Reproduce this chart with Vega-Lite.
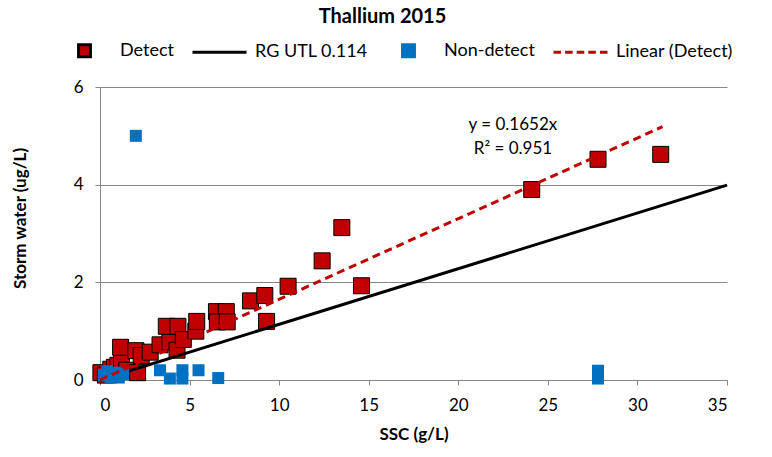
{
  "$schema": "https://vega.github.io/schema/vega-lite/v6.json",
  "width": 627,
  "height": 293,
  "autosize": {"type": "none"},
  "padding": {"left": 100, "top": 87, "right": 45, "bottom": 77},
  "background": "white",
  "title": {"text": "Thallium 2015", "font": "Lato", "fontSize": 20, "fontWeight": "bold", "color": "black", "anchor": "middle", "frame": "group", "dx": -31, "offset": -5},
  "config": {"view": {"stroke": null}},
  "datasets": {
    "pts": [
      {"ssc": 0.05, "sw": 0.15, "series": "Detect"},
      {"ssc": 0.3, "sw": 0.1, "series": "Detect"},
      {"ssc": 0.6, "sw": 0.22, "series": "Detect"},
      {"ssc": 0.8, "sw": 0.26, "series": "Detect"},
      {"ssc": 1.0, "sw": 0.3, "series": "Detect"},
      {"ssc": 1.2, "sw": 0.4, "series": "Detect"},
      {"ssc": 1.15, "sw": 0.67, "series": "Detect"},
      {"ssc": 1.5, "sw": 0.2, "series": "Detect"},
      {"ssc": 2.0, "sw": 0.6, "series": "Detect"},
      {"ssc": 2.1, "sw": 0.15, "series": "Detect"},
      {"ssc": 2.3, "sw": 0.5, "series": "Detect"},
      {"ssc": 2.8, "sw": 0.57, "series": "Detect"},
      {"ssc": 3.35, "sw": 0.72, "series": "Detect"},
      {"ssc": 3.9, "sw": 0.78, "series": "Detect"},
      {"ssc": 3.7, "sw": 1.1, "series": "Detect"},
      {"ssc": 4.35, "sw": 1.1, "series": "Detect"},
      {"ssc": 4.3, "sw": 0.61, "series": "Detect"},
      {"ssc": 4.65, "sw": 0.83, "series": "Detect"},
      {"ssc": 5.35, "sw": 1.0, "series": "Detect"},
      {"ssc": 5.4, "sw": 1.2, "series": "Detect"},
      {"ssc": 6.5, "sw": 1.4, "series": "Detect"},
      {"ssc": 7.05, "sw": 1.4, "series": "Detect"},
      {"ssc": 6.55, "sw": 1.19, "series": "Detect"},
      {"ssc": 7.1, "sw": 1.19, "series": "Detect"},
      {"ssc": 8.4, "sw": 1.62, "series": "Detect"},
      {"ssc": 9.2, "sw": 1.73, "series": "Detect"},
      {"ssc": 9.3, "sw": 1.2, "series": "Detect"},
      {"ssc": 10.5, "sw": 1.92, "series": "Detect"},
      {"ssc": 12.4, "sw": 2.44, "series": "Detect"},
      {"ssc": 13.5, "sw": 3.12, "series": "Detect"},
      {"ssc": 14.6, "sw": 1.93, "series": "Detect"},
      {"ssc": 24.1, "sw": 3.9, "series": "Detect"},
      {"ssc": 27.8, "sw": 4.52, "series": "Detect"},
      {"ssc": 31.3, "sw": 4.62, "series": "Detect"},
      {"ssc": 0.2, "sw": 0.1, "series": "Non-detect"},
      {"ssc": 0.4, "sw": 0.18, "series": "Non-detect"},
      {"ssc": 0.6, "sw": 0.05, "series": "Non-detect"},
      {"ssc": 0.85, "sw": 0.15, "series": "Non-detect"},
      {"ssc": 1.05, "sw": 0.05, "series": "Non-detect"},
      {"ssc": 1.3, "sw": 0.12, "series": "Non-detect"},
      {"ssc": 3.35, "sw": 0.2, "series": "Non-detect"},
      {"ssc": 3.9, "sw": 0.03, "series": "Non-detect"},
      {"ssc": 4.6, "sw": 0.2, "series": "Non-detect"},
      {"ssc": 4.6, "sw": 0.03, "series": "Non-detect"},
      {"ssc": 5.5, "sw": 0.2, "series": "Non-detect"},
      {"ssc": 6.6, "sw": 0.04, "series": "Non-detect"},
      {"ssc": 2.0, "sw": 5.0, "series": "Non-detect"},
      {"ssc": 27.8, "sw": 0.19, "series": "Non-detect"},
      {"ssc": 27.8, "sw": 0.03, "series": "Non-detect"}
    ],
    "rg": [{"ssc": 0, "sw": 0}, {"ssc": 35, "sw": 3.99}],
    "trend": [{"ssc": 0, "sw": 0}, {"ssc": 31.4, "sw": 5.187}],
    "notes": [
      {"ssc": 23.05, "sw": 5.22, "label": "y = 0.1652x"},
      {"ssc": 23.05, "sw": 4.73, "label": "R² = 0.951"}
    ]
  },
  "encoding": {
    "x": {"field": "ssc", "type": "quantitative", "scale": {"domain": [0, 35], "nice": false},
      "axis": {"title": "SSC (g/L)", "values": [0, 5, 10, 15, 20, 25, 30, 35], "grid": false, "domainColor": "#868686", "tickColor": "#868686", "tickSize": 5, "labelFont": "Lato", "labelFontSize": 17, "labelColor": "black", "labelPadding": 12, "titleFont": "Lato", "titleFontSize": 17, "titleFontWeight": "bold", "titleColor": "black", "titlePadding": 13}},
    "y": {"field": "sw", "type": "quantitative", "scale": {"domain": [0, 6], "nice": false},
      "axis": {"title": "Storm water (ug/L)", "values": [0, 2, 4, 6], "grid": true, "gridColor": "#868686", "domainColor": "#868686", "tickColor": "#868686", "tickSize": 5, "labelFont": "Lato", "labelFontSize": 17, "labelColor": "black", "labelPadding": 12, "titleFont": "Lato", "titleFontSize": 17, "titleFontWeight": "bold", "titleColor": "black", "titlePadding": 44, "titleY": 131}}
  },
  "layer": [
    {
      "data": {"name": "pts"},
      "transform": [{"filter": "datum.series === 'Detect'"}],
      "mark": {"type": "point", "filled": true, "size": 5289, "strokeWidth": 1, "opacity": 1},
      "encoding": {
        "fill": {"field": "series", "type": "nominal", "scale": {"domain": ["Detect", "RG UTL 0.114", "Non-detect", "Linear (Detect)"], "range": ["#C00000", "transparent", "#0070C0", "transparent"]},
          "legend": {"orient": "none", "legendX": -44, "legendY": -65, "direction": "horizontal", "title": null, "labelFont": "Lato", "labelFontSize": 18, "labelColor": "black", "labelOffset": 7, "columnPadding": 12, "symbolSize": 2916, "symbolStrokeWidth": 3,
            "encode": {"symbols": {"update": {"size": {"value": 2916}, "opacity": {"value": 1}, "strokeWidth": {"signal": "datum.value === 'Detect' ? 1 : datum.value === 'Non-detect' ? 0 : 3"}}}}}},
        "stroke": {"field": "series", "type": "nominal", "scale": {"domain": ["Detect", "RG UTL 0.114", "Non-detect", "Linear (Detect)"], "range": ["black", "black", "#0070C0", "#C00000"]}},
        "shape": {"field": "series", "type": "nominal", "scale": {"domain": ["Detect", "RG UTL 0.114", "Non-detect", "Linear (Detect)"], "range": ["M-0.22,-0.22H0.22V0.22H-0.22Z", "M-1,0H1", "M-0.22,-0.22H0.22V0.22H-0.22Z", "M-1,0H-0.72M-0.57,0H-0.29M-0.14,0H0.14M0.29,0H0.57M0.72,0H1"]}}
      }
    },
    {
      "data": {"name": "rg"},
      "mark": {"type": "line", "color": "black", "strokeWidth": 3},
      "encoding": {}
    },
    {
      "data": {"name": "pts"},
      "transform": [{"filter": "datum.series === 'Non-detect'"}],
      "mark": {"type": "point", "filled": true, "size": 2975, "strokeWidth": 0, "opacity": 1},
      "encoding": {
        "fill": {"field": "series", "type": "nominal"},
        "stroke": {"field": "series", "type": "nominal"},
        "shape": {"field": "series", "type": "nominal"}
      }
    },
    {
      "data": {"name": "trend"},
      "mark": {"type": "line", "color": "#C00000", "strokeWidth": 3, "strokeDash": [8, 5]},
      "encoding": {}
    },
    {
      "data": {"name": "notes"},
      "mark": {"type": "text", "font": "Lato", "fontSize": 17, "color": "black", "align": "center", "baseline": "middle"},
      "encoding": {"text": {"field": "label", "type": "nominal"}}
    }
  ]
}
